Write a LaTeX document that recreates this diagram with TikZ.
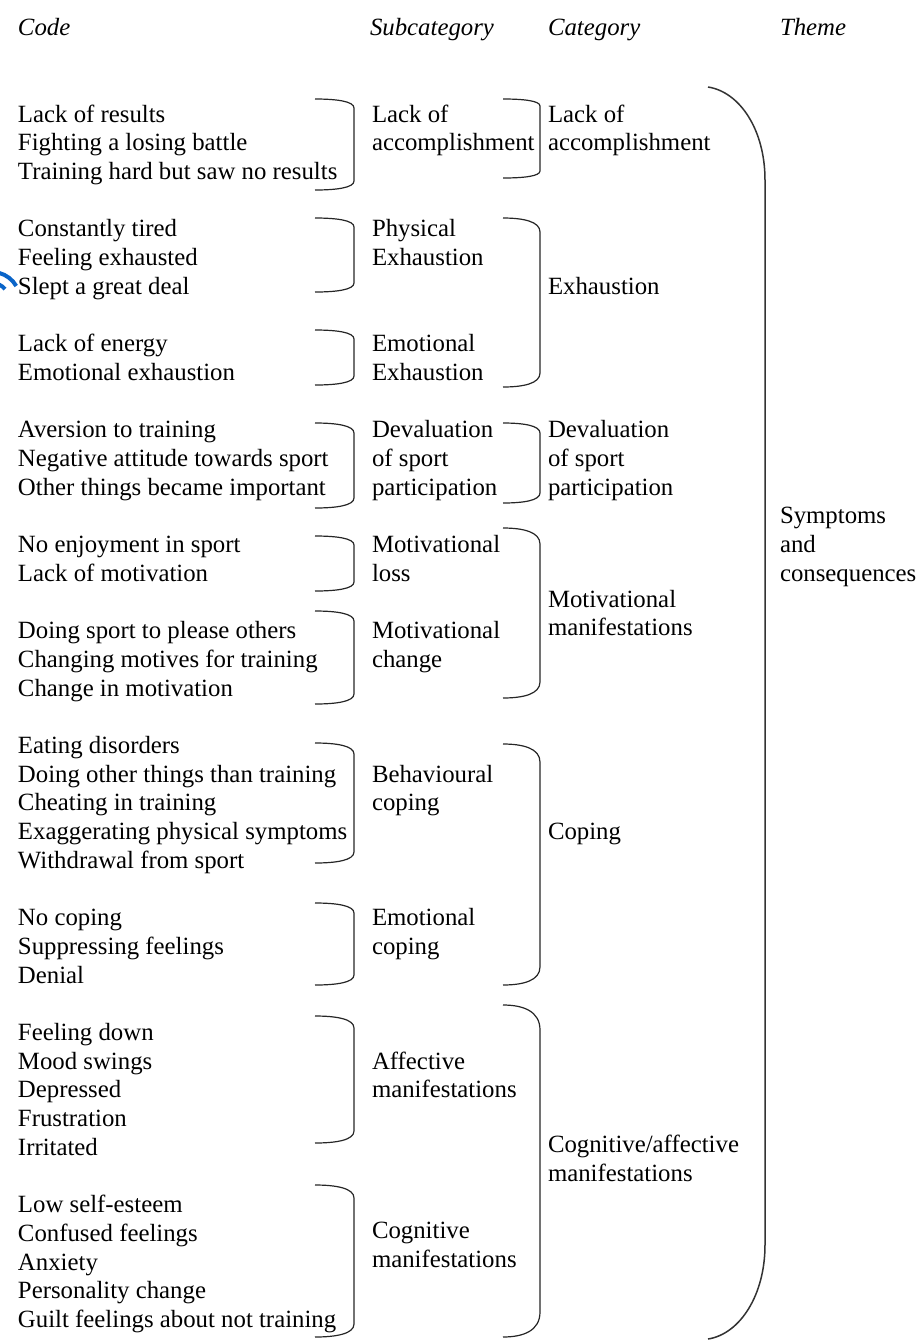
\documentclass[tikz,border=0pt]{standalone}
\usepackage{fontspec}
\setmainfont{Liberation Serif}
% square bracket: left end x, spine x, top y, bottom y, corner size
\newcommand{\sqbrk}[5]{%
  \draw[brk] (#1,#3) .. controls ({#2-0.45*(#2-#1)},#3) and (#2,{#3+0.25*#5}) .. (#2,{#3+#5})
    -- (#2,{#4-#5}) .. controls (#2,{#4-0.25*#5}) and ({#2-0.45*(#2-#1)},#4) .. (#1,#4);}
\begin{document}
\begin{tikzpicture}[x=0.5pt,y=-0.5pt,
  lbl/.style={anchor=base west, inner sep=0pt, outer sep=0pt,
    font=\fontsize{12.4pt}{14pt}\selectfont, text=black},
  hdr/.style={lbl, font=\fontsize{12.4pt}{14pt}\selectfont\itshape},
  brk/.style={draw=black!85, line width=0.6pt},
  themebrk/.style={draw=black!80, line width=0.75pt},
  bluearc/.style={draw={rgb,255:red,10;green,100;blue,200}, line width=2pt}]
\useasboundingbox (0,0) rectangle (922,1340);
\clip (0,0) rectangle (922,1340);

% column headings
\node[hdr] (hcode) at (18,35) {Code};
\node[hdr] (hsub)  at (370,35) {Subcategory};
\node[hdr] (hcat)  at (548,35) {Category};
\node[hdr] (htheme) at (780,35) {Theme};

% codes, one per row (row index -> baseline)
\foreach \t/\i in {Lack of results/0, Fighting a losing battle/1, Training hard but saw no results/2,
  Constantly tired/4, Feeling exhausted/5, Slept a great deal/6,
  Lack of energy/8, Emotional exhaustion/9,
  Aversion to training/11, Negative attitude towards sport/12, Other things became important/13,
  No enjoyment in sport/15, Lack of motivation/16,
  Doing sport to please others/18, Changing motives for training/19, Change in motivation/20,
  Eating disorders/22, Doing other things than training/23, Cheating in training/24,
  Exaggerating physical symptoms/25, Withdrawal from sport/26,
  No coping/28, Suppressing feelings/29, Denial/30,
  Feeling down/32, Mood swings/33, Depressed/34, Frustration/35, Irritated/36,
  Low self-esteem/38, Confused feelings/39, Anxiety/40, Personality change/41,
  Guilt feelings about not training/42}
  \node[lbl] (code\i) at (18,{122+28.7*\i}) {\t};

% subcategories
\foreach \t/\i in {Lack of/0, accomplishment/1, Physical/4, Exhaustion/5,
  Emotional/8, Exhaustion/9, Devaluation/11, of sport/12, participation/13,
  Motivational/15, loss/16, Motivational/18, change/19,
  Behavioural/23, coping/24, Emotional/28, coping/29,
  Affective/33, manifestations/34, Cognitive/38.9, manifestations/39.9}
  \node[lbl] (sub\i) at (372,{122+28.7*\i}) {\t};

% categories
\foreach \t/\i in {Lack of/0, accomplishment/1, Exhaustion/6,
  Devaluation/11, of sport/12, participation/13,
  Motivational/16.9, manifestations/17.9, Coping/25, manifestations/36.9}
  \node[lbl] (cat\i) at (548,{122+28.7*\i}) {\t};
\node[lbl] (catcog) at (548,{122+28.7*35.9}) {Cognitive/affective};

% theme
\node[lbl] (th1) at (780,{122+28.7*14}) {Symptoms};
\node[lbl] (th2) at (780,{122+28.7*15}) {and};
\node[lbl] (th3) at (780,{122+28.7*16}) {consequences};

% code -> subcategory brackets
\sqbrk{315}{354}{99}{190}{9}
\sqbrk{315}{354}{218}{292}{9}
\sqbrk{315}{354}{330}{385}{9}
\sqbrk{315}{354}{423}{508}{10}
\sqbrk{315}{354}{536}{591}{9}
\sqbrk{315}{354}{611}{704}{10}
\sqbrk{315}{354}{743}{863}{11}
\sqbrk{315}{354}{903}{985}{10}
\sqbrk{315}{354}{1016}{1143}{12}
\sqbrk{315}{354}{1185}{1337}{13}

% subcategory -> category brackets
\sqbrk{503}{540}{99}{178}{7}
\sqbrk{503}{540}{218}{387}{14}
\sqbrk{503}{540}{423}{503}{10}
\sqbrk{503}{540}{528}{698}{16}
\sqbrk{503}{540}{744}{985}{18}
\sqbrk{503}{540}{1005}{1337}{25}

% category -> theme bracket
\draw[themebrk] (708,87) .. controls (740,92) and (765,130) .. (765,180)
  -- (765,1245) .. controls (765,1295) and (740,1334) .. (708,1339);

% small blue arcs at the left edge
\draw[bluearc] (-8,300) ++(-75:28) arc[start angle=-75, end angle=-30, radius=28];
\draw[bluearc] (-8,300) ++(-65:17) arc[start angle=-65, end angle=-40, radius=17];
\end{tikzpicture}
\end{document}
